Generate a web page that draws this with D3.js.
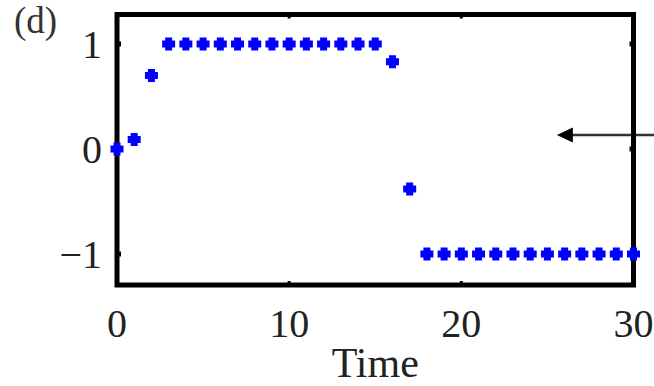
<!DOCTYPE html>
<html>
<head>
<meta charset="utf-8">
<script src="https://cdn.jsdelivr.net/npm/d3@7"></script>
<style>
  html, body { margin: 0; padding: 0; background: #fff; }
  svg { display: block; }
</style>
</head>
<body>
<div id="chart"></div>
<script>
// series values, one per time step (t = 0..30)
const times = d3.range(0, 31);
const values = [0, 0.09, 0.70,
  1, 1, 1, 1, 1, 1, 1, 1, 1, 1, 1, 1, 1,
  0.83, -0.38,
  -1, -1, -1, -1, -1, -1, -1, -1, -1, -1, -1, -1, -1];
const xTicks = [0, 10, 20, 30];
const yTicks = [-1, 0, 1];
const yTickLabels = ['\u22121', '0', '1'];
const panelLabel = '(d)';
const xLabel = 'Time';
// arrow annotation: tip position in data units
const arrowTip = [25.55, 0.133];

const width = 654, height = 386;
const margin = { top: 14.5, right: 20.5, bottom: 101, left: 117 };

const svg = d3.select('#chart').append('svg')
  .attr('width', width)
  .attr('height', height);

const x = d3.scaleLinear().domain([0, 30]).range([margin.left, width - margin.right]);
const y = d3.scaleLinear().domain([-1.295, 1.28]).range([height - margin.bottom, margin.top]);

const serif = "'Liberation Serif', 'DejaVu Serif', serif";

// inward ticks on all four sides
const tickLen = 4;
const g = svg.append('g');
xTicks.forEach(t => {
  g.append('line').attr('x1', x(t)).attr('x2', x(t))
    .attr('y1', y.range()[0]).attr('y2', y.range()[0] - tickLen)
    .attr('stroke', '#000').attr('stroke-width', 3);
  g.append('line').attr('x1', x(t)).attr('x2', x(t))
    .attr('y1', y.range()[1]).attr('y2', y.range()[1] + tickLen)
    .attr('stroke', '#000').attr('stroke-width', 3);
});
yTicks.forEach(v => {
  g.append('line').attr('x1', x.range()[0]).attr('x2', x.range()[0] + tickLen)
    .attr('y1', y(v)).attr('y2', y(v))
    .attr('stroke', '#000').attr('stroke-width', 5);
  g.append('line').attr('x1', x.range()[1]).attr('x2', x.range()[1] - tickLen)
    .attr('y1', y(v)).attr('y2', y(v))
    .attr('stroke', '#000').attr('stroke-width', 5);
});

// tick labels
svg.append('g').selectAll('text')
  .data(xTicks).enter().append('text')
  .attr('x', d => x(d))
  .attr('y', 337)
  .attr('text-anchor', 'middle')
  .style('font-family', serif)
  .style('font-size', '40px')
  .style('fill', '#222')
  .text(d => d);

svg.append('g').selectAll('text')
  .data(yTicks).enter().append('text')
  .attr('x', x.range()[0] - 15)
  .attr('y', d => y(d))
  .attr('dy', '0.34em')
  .attr('text-anchor', 'end')
  .style('font-family', serif)
  .style('font-size', '40px')
  .style('fill', '#222')
  .text((d, i) => yTickLabels[i]);

svg.append('text')
  .attr('x', (x.range()[0] + x.range()[1]) / 2)
  .attr('y', 377)
  .attr('text-anchor', 'middle')
  .style('font-family', serif)
  .style('font-size', '42px')
  .style('fill', '#222')
  .text(xLabel);

svg.append('text')
  .attr('x', 14)
  .attr('y', 33)
  .style('font-family', serif)
  .style('font-size', '37px')
  .style('fill', '#333')
  .text(panelLabel);

// arrow annotation
const ax = x(arrowTip[0]), ay = y(arrowTip[1]);
svg.append('line')
  .attr('x1', ax + 10).attr('x2', width)
  .attr('y1', ay).attr('y2', ay)
  .attr('stroke', '#333').attr('stroke-width', 2.5);
svg.append('path')
  .attr('d', `M${ax},${ay} L${ax + 16},${ay - 7.5} L${ax + 16},${ay + 7.5} Z`)
  .attr('fill', '#000');

// frame
svg.append('rect')
  .attr('x', x.range()[0]).attr('y', y.range()[1])
  .attr('width', x.range()[1] - x.range()[0])
  .attr('height', y.range()[0] - y.range()[1])
  .attr('fill', 'none')
  .attr('stroke', '#000')
  .attr('stroke-width', 5);

// plus-shaped markers
const w = 6.5, a = 3.5;
const plus = `M${-a},${-w} H${a} V${-a} H${w} V${a} H${a} V${w} H${-a} V${a} H${-w} V${-a} H${-a} Z`;
svg.append('g').selectAll('path')
  .data(times).enter().append('path')
  .attr('transform', (d, i) => `translate(${x(d)},${y(values[i])})`)
  .attr('d', plus)
  .attr('fill', '#0000ff');
</script>
</body>
</html>
